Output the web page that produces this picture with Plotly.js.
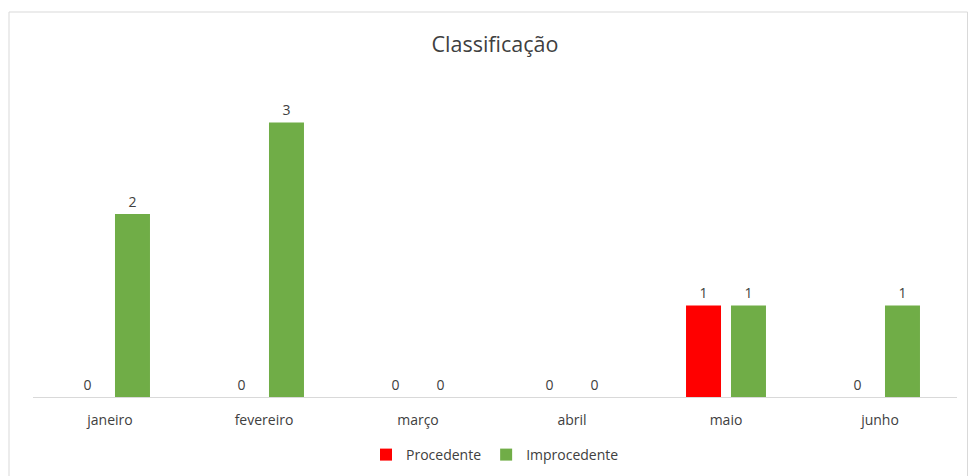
<!DOCTYPE html>
<html>
<head>
<meta charset="utf-8">
<script src="https://cdn.plot.ly/plotly-3.0.1.min.js"></script>
<style>html,body{margin:0;padding:0;background:#fff;}#chart{width:968px;height:476px;}</style>
</head>
<body>
<div id="chart"></div>
<script>
const months = ["janeiro", "fevereiro", "março", "abril", "maio", "junho"];
const procedente = [0, 0, 0, 0, 1, 0];
const improcedente = [2, 3, 0, 0, 1, 1];
const seriesNames = ["Procedente", "Improcedente"];
const seriesColors = ["#ff0000", "#70ad47"];

const font = "'Open Sans', 'Noto Sans', sans-serif";
const textColor = "#404040";

const traces = [procedente, improcedente].map((vals, i) => ({
  type: "bar",
  name: seriesNames[i],
  x: months,
  y: vals,
  marker: {color: seriesColors[i]},
  text: vals.map(String),
  textposition: "outside",
  cliponaxis: false,
  textfont: {family: font, size: 14, color: textColor},
  hoverinfo: "x+y+name"
}));

const layout = {
  width: 968,
  height: 476,
  margin: {l: 33, r: 11, t: 95, b: 79, autoexpand: false},
  paper_bgcolor: "#ffffff",
  plot_bgcolor: "#ffffff",
  title: {
    text: "Classificação",
    font: {family: font, size: 21.5, color: textColor},
    x: 0.5, xanchor: "center", xref: "paper",
    y: 1 - 44 / 476, yanchor: "middle", yref: "container"
  },
  barmode: "group",
  bargap: 0.416,
  bargroupgap: 0.222,
  xaxis: {
    showline: true,
    linecolor: "#d9d9d9",
    linewidth: 1,
    ticks: "outside",
    ticklen: 10,
    tickcolor: "rgba(0,0,0,0)",
    tickfont: {family: font, size: 14, color: textColor},
    showgrid: false,
    zeroline: false,
    automargin: false
  },
  yaxis: {
    range: [0, 3.3],
    visible: false,
    showgrid: false,
    zeroline: false
  },
  showlegend: true,
  legend: {
    orientation: "h",
    x: 0.5, xanchor: "center", xref: "paper",
    y: 1 - 455 / 476, yanchor: "middle", yref: "container",
    font: {family: font, size: 14, color: textColor},
    itemwidth: 30,
    traceorder: "normal"
  },
  shapes: [{
    type: "rect",
    xref: "paper", yref: "paper",
    x0: (9 - 33) / 924, x1: (967.5 - 33) / 924,
    y0: (397 - 490) / 302, y1: (397 - 12) / 302,
    line: {color: "#d9d9d9", width: 1},
    fillcolor: "rgba(0,0,0,0)",
    layer: "below"
  }]
};

Plotly.newPlot("chart", traces, layout, {displayModeBar: false, staticPlot: true});
</script>
</body>
</html>
